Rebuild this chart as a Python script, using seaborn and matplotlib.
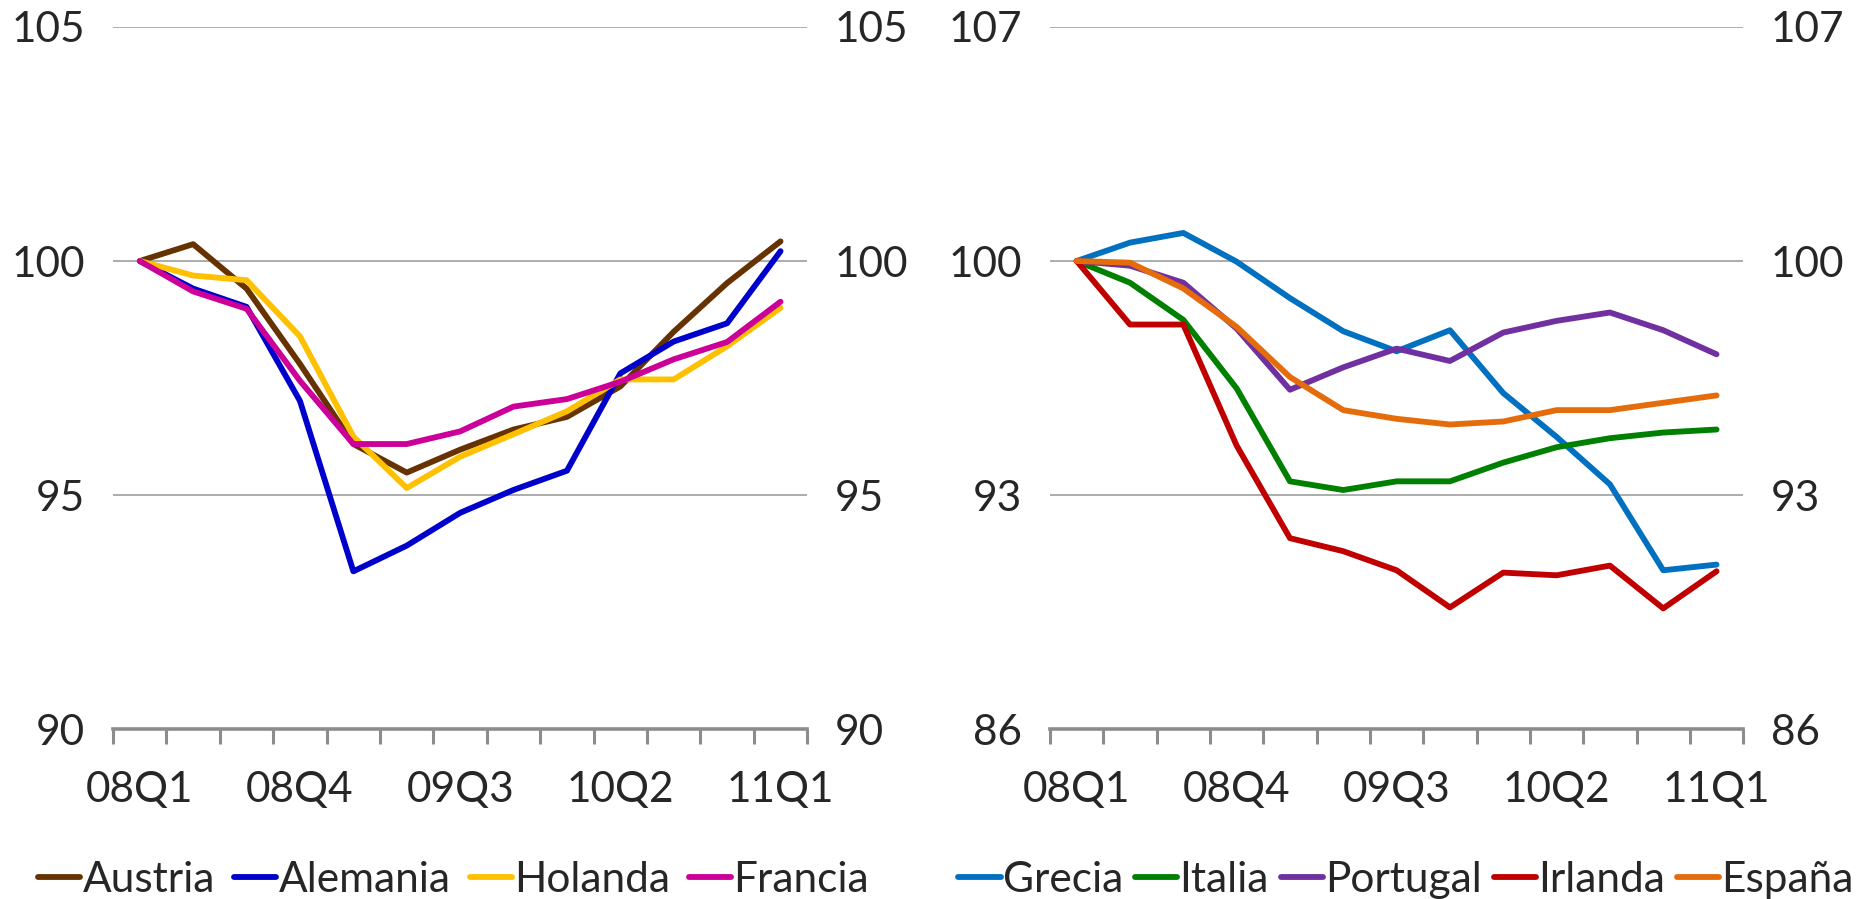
import numpy as np
import pandas as pd
import seaborn as sns
import matplotlib.pyplot as plt
from matplotlib.ticker import FixedLocator

quarters = ["08Q1", "08Q2", "08Q3", "08Q4", "09Q1", "09Q2", "09Q3",
            "09Q4", "10Q1", "10Q2", "10Q3", "10Q4", "11Q1"]

# left panel
austria = [100, 100.36, 99.41, 97.8, 96.09, 95.48, 95.97, 96.40, 96.67, 97.32, 98.49, 99.53, 100.42]
alemania = [100, 99.41, 99.02, 97.01, 93.37, 93.92, 94.62, 95.11, 95.52, 97.60, 98.28, 98.67, 100.21]
holanda = [100, 99.69, 99.59, 98.39, 96.25, 95.15, 95.82, 96.30, 96.79, 97.47, 97.47, 98.18, 99.00]
francia = [100, 99.35, 98.98, 97.44, 96.09, 96.09, 96.36, 96.89, 97.05, 97.42, 97.90, 98.27, 99.13]

# right panel
grecia = [100, 100.55, 100.84, 99.98, 98.89, 97.90, 97.30, 97.93, 96.05, 94.74, 93.32, 90.75, 90.92]
italia = [100, 99.35, 98.24, 96.19, 93.41, 93.15, 93.41, 93.41, 93.97, 94.43, 94.70, 94.87, 94.96]
portugal = [100, 99.86, 99.35, 97.98, 96.15, 96.82, 97.38, 97.01, 97.86, 98.21, 98.46, 97.93, 97.21]
irlanda = [100, 98.10, 98.10, 94.48, 91.71, 91.32, 90.75, 89.64, 90.68, 90.60, 90.89, 89.61, 90.72]
espana = [100, 99.95, 99.18, 98.03, 96.53, 95.54, 95.28, 95.11, 95.20, 95.54, 95.54, 95.76, 95.98]

left_series = {"Austria": austria, "Alemania": alemania, "Holanda": holanda, "Francia": francia}
right_series = {"Grecia": grecia, "Italia": italia, "Portugal": portugal, "Irlanda": irlanda, "España": espana}

left_colors = ["#663300", "#0000CC", "#FFC000", "#CC0099"]
right_colors = ["#0070C0", "#008000", "#7030A0", "#C00000", "#E46C0A"]


def to_long(series):
    rows = []
    for name, vals in series.items():
        for i, v in enumerate(vals):
            rows.append({"pos": i, "trimestre": quarters[i], "valor": v, "pais": name})
    return pd.DataFrame(rows)


sns.set_style("white")
plt.rcParams["font.family"] = ["Lato", "DejaVu Sans"]
FS = 30.5

fig = plt.figure(figsize=(18.66, 8.99), dpi=100)
ax1 = fig.add_axes([0.0606, 0.189, 0.372, 0.781])
ax2 = fig.add_axes([0.5627, 0.189, 0.3715, 0.781])


def style_axis(ax, df, colors, yticks, legend_x, colsp):
    sns.lineplot(data=df, x="pos", y="valor", hue="pais", palette=colors,
                 linewidth=4.2, ax=ax, legend=True)
    ax.set_xlim(-0.5, 12.5)
    ax.set_ylim(yticks[0], yticks[-1])
    ax.set_yticks(yticks)
    ax.set_yticklabels([str(t) for t in yticks], fontsize=FS)
    ax.set_xticks(range(0, 13, 3))
    ax.set_xticklabels([quarters[i] for i in range(0, 13, 3)], fontsize=FS)
    ax.xaxis.set_minor_locator(FixedLocator(np.arange(-0.5, 13, 1)))
    ax.tick_params(axis="x", which="major", length=0, pad=30)
    ax.tick_params(axis="x", which="minor", length=11, width=2.2,
                   color="#8c8c8c", direction="out", bottom=True)
    ax.tick_params(axis="y", length=0, labelleft=True, labelright=True, pad=20)
    for s in ["top", "left", "right"]:
        ax.spines[s].set_visible(False)
    ax.spines["bottom"].set_color("#8c8c8c")
    ax.spines["bottom"].set_linewidth(2.6)
    for t in yticks[1:]:
        ax.axhline(t, color="#a6a6a6", lw=1.3, zorder=0)
    ax.set_xlabel("")
    ax.set_ylabel("")
    handles, labels = ax.get_legend_handles_labels()
    ax.legend(handles, labels, loc="center left", bbox_to_anchor=(legend_x, -0.215),
              ncol=len(labels), frameon=False, fontsize=FS, handlelength=1.0,
              handletextpad=0.05, columnspacing=colsp, borderaxespad=0, borderpad=0)


style_axis(ax1, to_long(left_series), left_colors, [90, 95, 100, 105], -0.108, 0.45)
style_axis(ax2, to_long(right_series), right_colors, [86, 93, 100, 107], -0.132, 0.28)

fig.savefig("out.png", dpi=100)
